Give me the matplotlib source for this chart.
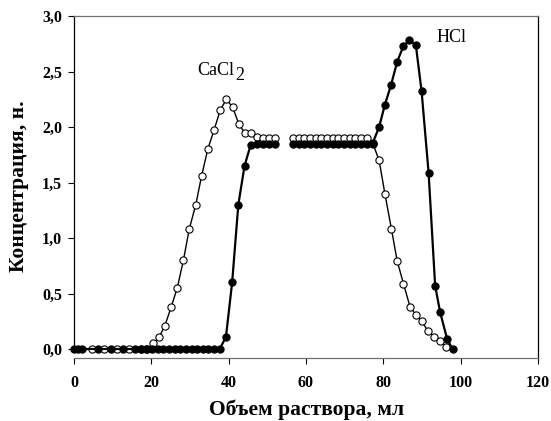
import numpy as np
import matplotlib
matplotlib.use("Agg")
import matplotlib.pyplot as plt

plt.rcParams['font.family'] = ['Liberation Serif', 'DejaVu Serif']

# CaCl2 (open circles); nan marks the gap between the two runs
cacl2_x = [4.6, 7.8, 11.0, 14.1, 17.3, 18.9, 20.4, 22.0, 23.5, 25.1, 26.7, 28.3,
           29.8, 31.5, 33.0, 34.6, 36.2, 37.8, 39.4, 41.0, 42.6, 44.1, 45.8,
           47.3, 48.9, 50.4, 52.0, np.nan,
           56.7, 58.2, 59.6, 61.1, 62.5, 64.0, 65.4, 66.9, 68.4, 69.8, 71.3,
           72.7, 74.2, 75.7, 77.2, 78.9, 80.4, 82.1, 83.6, 85.2, 86.9, 88.4,
           89.9, 91.6, 93.2, 94.7, 96.3]
cacl2_y = [0, 0, 0, 0, 0, 0, 0.05, 0.105, 0.21, 0.375, 0.55, 0.80,
           1.08, 1.30, 1.56, 1.80, 1.97, 2.15, 2.25, 2.18, 2.03, 1.95, 1.95,
           1.91, 1.90, 1.90, 1.90, np.nan,
           1.90, 1.90, 1.90, 1.90, 1.90, 1.90, 1.90, 1.90, 1.90, 1.90, 1.90,
           1.90, 1.90, 1.90, 1.86, 1.70, 1.40, 1.08, 0.79, 0.59, 0.38, 0.31,
           0.25, 0.16, 0.11, 0.075, 0.02]

# HCl (filled circles)
hcl_x = [0, 1.0, 2.0, 6.3, 9.5, 12.6, 15.8, 17.3, 18.7, 20.2, 21.6, 23.1,
         24.5, 26.0, 27.5, 28.9, 30.4, 31.8, 33.3, 34.7, 36.2, 37.7, 39.3,
         40.9, 42.5, 44.1, 45.7, 47.2, 48.8, 50.4, 52.0, np.nan,
         56.7, 58.2, 59.6, 61.1, 62.5, 64.0, 65.4, 66.9, 68.4, 69.8, 71.3,
         72.7, 74.2, 75.7, 77.2, 78.9, 80.4, 82.0, 83.6, 85.2, 86.7, 88.4,
         89.9, 91.7, 93.4, 94.7, 96.5, 97.9]
hcl_y = [0, 0, 0, 0, 0, 0, 0, 0, 0, 0, 0, 0,
         0, 0, 0, 0, 0, 0, 0, 0, 0, 0, 0.11,
         0.60, 1.30, 1.65, 1.84, 1.85, 1.85, 1.85, 1.85, np.nan,
         1.85, 1.85, 1.85, 1.85, 1.85, 1.85, 1.85, 1.85, 1.85, 1.85, 1.85,
         1.85, 1.85, 1.85, 1.85, 2.00, 2.20, 2.38, 2.59, 2.73, 2.78, 2.74,
         2.32, 1.59, 0.57, 0.33, 0.09, 0.0]

xticks = [0, 20, 40, 60, 80, 100, 120]
yticks = [0.0, 0.5, 1.0, 1.5, 2.0, 2.5, 3.0]

fig = plt.figure(figsize=(5.51, 4.21), dpi=100)
ax = fig.add_axes([74 / 551, 72 / 421, 464 / 551, 333 / 421])

# SigmaPlot-like frame: x axis pulled below the data
# (set before the tick labels, since moving a spine rebuilds the ticks)
ax.spines['bottom'].set_position(('outward', 6.5))
ax.spines['bottom'].set_color('#707070')
ax.spines['top'].set_color('#707070')
ax.spines['right'].set_bounds(-0.078, 3.0)
for s in ax.spines.values():
    s.set_linewidth(0.9)

ax.plot(cacl2_x, cacl2_y, '-o', color='black', lw=1.0, ms=5.2,
        mfc='white', mec='black', mew=0.8, clip_on=False, zorder=3)
ax.plot(hcl_x, hcl_y, '-o', color='black', lw=1.6, ms=5.2,
        mfc='black', mec='black', mew=0.8, clip_on=False, zorder=4)

ax.set_xlim(0, 120)
ax.set_ylim(0, 3.0)
ax.tick_params(axis='x', direction='out', length=4, width=0.8, pad=8,
               labelsize=11.5)
ax.tick_params(axis='y', direction='out', length=4.5, width=0.8, pad=4,
               labelsize=11.5)
ax.set_xticks(xticks)
ax.set_yticks(yticks)
ax.set_xticklabels([str(t) for t in xticks], fontweight='bold')
ax.set_yticklabels([f"{t:.1f}".replace('.', ',') for t in yticks],
                   fontweight='bold')

ax.annotate('CaCl', xy=(41.5, 2.51), ha='right', va='center', fontsize=13)
ax.annotate('2', xy=(41.5, 2.51), xytext=(0.5, -4), textcoords='offset points',
            ha='left', va='center', fontsize=13)
ax.text(97.7, 2.81, 'HCl', ha='center', va='center', fontsize=13)

fig.text(307 / 551, 1 - 410 / 421, 'Объем раствора, мл', ha='center',
         va='center', fontsize=15.5, fontweight='bold')
fig.text(19.5 / 551, 1 - 186 / 421, 'Концентрация, н.', ha='center',
         va='center', rotation=90, fontsize=15.5, fontweight='bold')

fig.savefig('out.png', dpi=100)
